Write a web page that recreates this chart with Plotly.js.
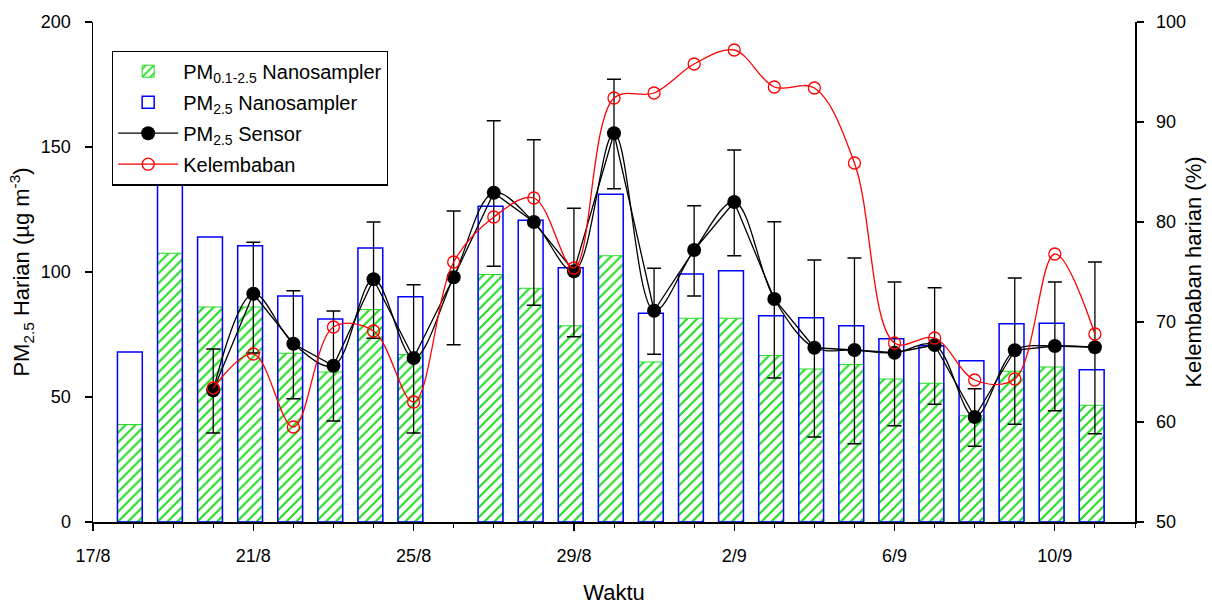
<!DOCTYPE html>
<html>
<head>
<meta charset="utf-8">
<script src="https://cdn.plot.ly/plotly-3.0.1.min.js"></script>
<style>
html, body { margin: 0; padding: 0; background: #ffffff; }
#chart { width: 1212px; height: 605px; }
</style>
</head>
<body>
<div id="chart"></div>
<script>
// ---- Data ----
const barDates = [
  '2023-08-18','2023-08-19','2023-08-20','2023-08-21','2023-08-22','2023-08-23','2023-08-24','2023-08-25',
  '2023-08-27','2023-08-28','2023-08-29','2023-08-30','2023-08-31',
  '2023-09-01','2023-09-02','2023-09-03','2023-09-04','2023-09-05','2023-09-06','2023-09-07','2023-09-08',
  '2023-09-09','2023-09-10','2023-09-11'
];
const pm01_25Nano = [39, 107.5, 86, 86, 67.5, 60, 85, 67, 99, 93.5, 78.5, 106.5, 64, 81.5, 81.5, 66.6, 61.2, 63, 57.2, 55.5, 42.5, 60.3, 62, 46.7];
const pm25Nano    = [68, 150, 114, 110.5, 90.4, 81.2, 109.6, 90.1, 126.3, 120.7, 101.7, 131.1, 83.5, 99.2, 100.5, 82.5, 81.7, 78.5, 73.3, 70.5, 64.5, 79.3, 79.5, 60.9];

const sensorDates = [
  '2023-08-20','2023-08-21','2023-08-22','2023-08-23','2023-08-24','2023-08-25','2023-08-26','2023-08-27',
  '2023-08-28','2023-08-29','2023-08-30','2023-08-31','2023-09-01','2023-09-02','2023-09-03','2023-09-04',
  '2023-09-05','2023-09-06','2023-09-07','2023-09-08','2023-09-09','2023-09-10','2023-09-11'
];
const pm25Sensor = [52.7, 91.3, 71.3, 62.5, 97.1, 65.6, 97.9, 131.7, 120, 100.3, 155.5, 84.5, 108.8, 128, 89.2, 69.7, 68.8, 67.7, 70.8, 42, 68.7, 70.4, 69.9];
const sensorErrPlus  = [16.5, 20.6, 21.2, 21.9, 22.9, 29.3, 26.5, 28.8, 32.9, 25.2, 21.6, 17, 17.7, 20.8, 30.9, 35.1, 36.8, 28.3, 22.9, 11.3, 28.9, 25.6, 34.1];
const sensorErrMinus = [17.1, 23.7, 22, 22.1, 23.6, 30, 27, 29.4, 33.3, 26.2, 22.2, 17.4, 18.4, 21.5, 31.6, 35.7, 37.5, 29.2, 23.7, 11.7, 29.6, 25.9, 34.6];
const humidity = [63.4, 66.8, 59.5, 69.5, 69.1, 62, 76, 80.5, 82.4, 75.4, 92.4, 92.9, 95.8, 97.2, 93.5, 93.4, 85.9, 67.9, 68.4, 64.2, 64.3, 76.8, 68.8];

const legendNames = [
  'PM<sub>0.1-2.5</sub> Nanosampler',
  'PM<sub>2.5</sub> Nanosampler',
  'PM<sub>2.5</sub> Sensor',
  'Kelembaban'
];

// ---- Styling ----
const DAY = 86400000;
const FONT = 'Arial, "Liberation Sans", "DejaVu Sans", sans-serif';
const GREEN = '#22dd22';
const BLUE = '#0000ff';
const barWidth = 0.62 * DAY;
const barOffset = -0.31 * DAY - 0.08 * DAY;

const traces = [
  {
    type: 'bar', name: legendNames[0], x: barDates, y: pm01_25Nano, width: barWidth, offset: barOffset,
    legendgroup: 'g1',
    marker: {
      color: 'white',
      line: { color: GREEN, width: 1 },
      pattern: { shape: '/', fgcolor: GREEN, bgcolor: 'white', size: 7, solidity: 0.3 }
    },
    hoverinfo: 'skip'
  },
  {
    type: 'bar', name: legendNames[1], x: barDates, y: pm25Nano, width: barWidth, offset: barOffset,
    legendgroup: 'g2',
    marker: { color: 'rgba(0,0,0,0)', line: { color: BLUE, width: 1.5 } },
    hoverinfo: 'skip'
  },
  {
    type: 'scatter', mode: 'lines', x: sensorDates, y: pm25Sensor, showlegend: false,
    legendgroup: 'g3',
    line: { color: 'black', width: 1.3 },
    hoverinfo: 'skip'
  },
  {
    type: 'scatter', mode: 'lines+markers', name: legendNames[2], x: sensorDates, y: pm25Sensor,
    legendgroup: 'g3',
    line: { color: 'black', width: 1.3, shape: 'spline', smoothing: 1 },
    marker: { color: 'black', size: 14 },
    error_y: { type: 'data', symmetric: false, array: sensorErrPlus, arrayminus: sensorErrMinus,
               color: 'black', thickness: 1.3, width: 7 },
    hoverinfo: 'skip'
  },
  {
    type: 'scatter', mode: 'lines+markers', name: legendNames[3], x: sensorDates, y: humidity, yaxis: 'y2',
    legendgroup: 'g4',
    line: { color: 'red', width: 1.3, shape: 'spline', smoothing: 1 },
    marker: { symbol: 'circle-open', size: 12, color: 'red', line: { width: 1.3, color: 'red' } },
    hoverinfo: 'skip'
  }
];

const layout = {
  width: 1212, height: 605,
  margin: { l: 93, r: 77, t: 22, b: 83 },
  paper_bgcolor: 'white', plot_bgcolor: 'white',
  font: { family: FONT, color: 'black', size: 18 },
  barmode: 'overlay',
  showlegend: true,
  legend: {
    x: 0.0182, y: 0.943, xanchor: 'left', yanchor: 'top',
    bgcolor: 'white', bordercolor: 'black', borderwidth: 1.2,
    font: { family: FONT, size: 20, color: 'black' },
    traceorder: 'grouped', tracegroupgap: 2,
    itemwidth: 60
  },
  xaxis: {
    type: 'date',
    range: ['2023-08-17', '2023-09-12'],
    tick0: '2023-08-17', dtick: 4 * DAY, tickformat: '%-d/%-m',
    ticks: 'outside', ticklen: 7, tickwidth: 1.2, tickcolor: 'black',
    ticklabelstandoff: 10,
    minor: { dtick: DAY, tick0: '2023-08-17', ticks: 'outside', ticklen: 4, tickwidth: 1, tickcolor: 'black', showgrid: false },
    showline: true, linecolor: 'black', linewidth: 1.8,
    showgrid: false, zeroline: false,
    tickfont: { family: FONT, size: 18 },
    title: { text: 'Waktu', font: { family: FONT, size: 22 }, standoff: 20 }
  },
  yaxis: {
    range: [0, 200], dtick: 50, tick0: 0,
    ticks: 'outside', ticklen: 7, tickwidth: 1.2, tickcolor: 'black',
    ticklabelstandoff: 10,
    showline: true, linecolor: 'black', linewidth: 1.5,
    showgrid: false, zeroline: false,
    tickfont: { family: FONT, size: 18 },
    title: { text: 'PM<sub>2.5</sub> Harian (µg m<sup>-3</sup>)', font: { family: FONT, size: 22 }, standoff: 5 }
  },
  yaxis2: {
    overlaying: 'y', side: 'right',
    range: [50, 100], dtick: 10, tick0: 50,
    ticks: 'outside', ticklen: 7, tickwidth: 1.2, tickcolor: 'black',
    ticklabelstandoff: 9,
    showline: true, linecolor: 'black', linewidth: 1.5,
    showgrid: false, zeroline: false,
    tickfont: { family: FONT, size: 18 },
    title: { text: 'Kelembaban harian (%)', font: { family: FONT, size: 22 }, standoff: 0 }
  }
};

Plotly.newPlot('chart', traces, layout, { staticPlot: true, displayModeBar: false });
</script>
</body>
</html>
